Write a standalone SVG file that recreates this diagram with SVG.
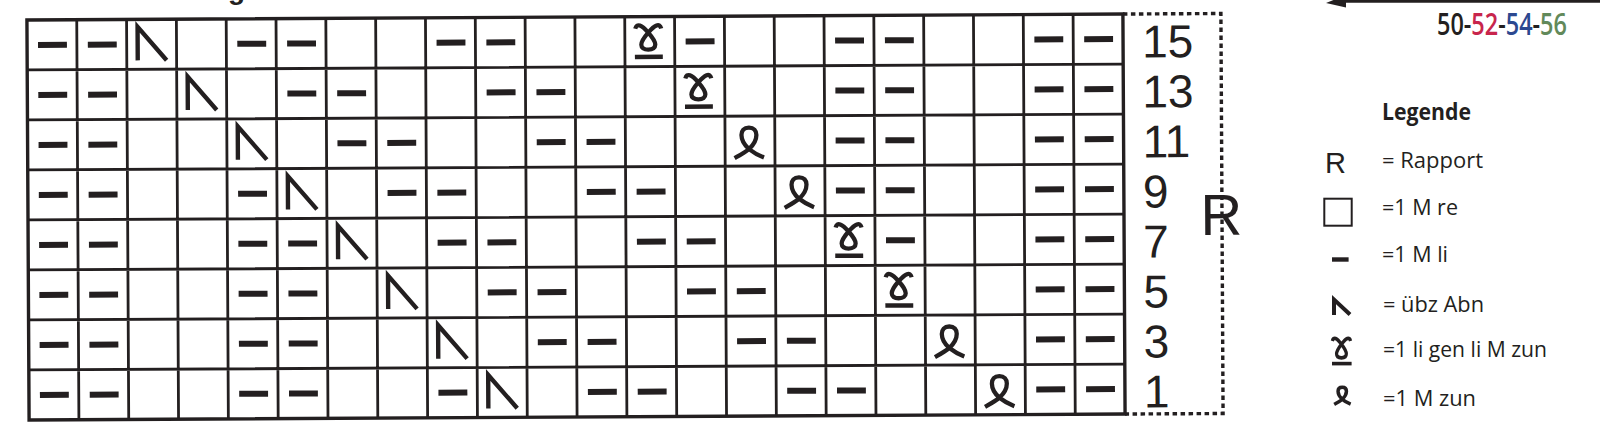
<svg xmlns="http://www.w3.org/2000/svg" xmlns:xlink="http://www.w3.org/1999/xlink" width="1600" height="438" viewBox="0 0 1600 438">
<style>
.ln{stroke:#231f20;fill:none}
.num{font-family:"Liberation Sans",Arial,sans-serif;font-size:46px;fill:#231f20}
.lg{font-family:"Open Sans","Noto Sans",sans-serif;font-size:22px;fill:#231f20}
.sz{font-family:"Open Sans","Noto Sans",sans-serif;font-weight:600;font-size:30px}
</style>
<defs>
<rect id="d" x="11" y="22" width="29" height="6" fill="#231f20"/>
<path id="k" d="M11 41V7.5L40 41" fill="none" stroke="#231f20" stroke-width="4.4" stroke-linejoin="miter"/>
<g id="t">
<path d="M10.5 12C12 6 17 8.5 23.5 16C27.5 20.5 30.5 24 30.5 28C30.5 31 28 33 23.5 33C19 33 16.5 31 16.5 28C16.5 24 19.5 20.5 23.5 16C30 8.5 35 6 36.5 12" fill="none" stroke="#231f20"/>
<rect x="10" y="38" width="28" height="4.5" fill="#231f20"/>
</g>
<path id="l" d="M9.5 42C14 39.5 19 37 24 33C34 24 34 11.5 24 11.5C14 11.5 14 24 24 33C29 37 34 39.5 39 41.5" fill="none" stroke="#231f20"/>
</defs>

<text x="228" y="-1" font-family="Liberation Sans,sans-serif" font-weight="bold" font-size="28" fill="#231f20">g</text>

<g id="chart" transform="rotate(-0.31 576 217)">
<g id="grid" transform="translate(28 17) scale(0.99636 1)">
<path class="ln" stroke-width="2.8" d="M50 0V400M100 0V400M150 0V400M200 0V400M250 0V400M300 0V400M350 0V400M400 0V400M450 0V400M500 0V400M550 0V400M600 0V400M650 0V400M700 0V400M750 0V400M800 0V400M850 0V400M900 0V400M950 0V400M1000 0V400M1050 0V400M0 50H1100M0 100H1100M0 150H1100M0 200H1100M0 250H1100M0 300H1100M0 350H1100"/>
<rect class="ln" stroke-width="3.4" x="0" y="0" width="1100" height="400"/>
<g id="row-15">
<use href="#d" x="0" y="0"/><use href="#d" x="50" y="0"/><use href="#d" x="200" y="0"/><use href="#d" x="250" y="0"/><use href="#d" x="400" y="0"/><use href="#d" x="450" y="0"/><use href="#d" x="650" y="0"/><use href="#d" x="800" y="0"/><use href="#d" x="850" y="0"/><use href="#d" x="1000" y="0"/><use href="#d" x="1050" y="0"/>
<use href="#k" x="100" y="0"/><use href="#t" x="600" y="0" stroke-width="4.3"/>
</g>
<g id="row-13">
<use href="#d" x="0" y="50"/><use href="#d" x="50" y="50"/><use href="#d" x="250" y="50"/><use href="#d" x="300" y="50"/><use href="#d" x="450" y="50"/><use href="#d" x="500" y="50"/><use href="#d" x="800" y="50"/><use href="#d" x="850" y="50"/><use href="#d" x="1000" y="50"/><use href="#d" x="1050" y="50"/>
<use href="#k" x="150" y="50"/><use href="#t" x="650" y="50" stroke-width="4.3"/>
</g>
<g id="row-11">
<use href="#d" x="0" y="100"/><use href="#d" x="50" y="100"/><use href="#d" x="300" y="100"/><use href="#d" x="350" y="100"/><use href="#d" x="500" y="100"/><use href="#d" x="550" y="100"/><use href="#d" x="800" y="100"/><use href="#d" x="850" y="100"/><use href="#d" x="1000" y="100"/><use href="#d" x="1050" y="100"/>
<use href="#k" x="200" y="100"/><use href="#l" x="700" y="100" stroke-width="4.3"/>
</g>
<g id="row-9">
<use href="#d" x="0" y="150"/><use href="#d" x="50" y="150"/><use href="#d" x="200" y="150"/><use href="#d" x="350" y="150"/><use href="#d" x="400" y="150"/><use href="#d" x="550" y="150"/><use href="#d" x="600" y="150"/><use href="#d" x="800" y="150"/><use href="#d" x="850" y="150"/><use href="#d" x="1000" y="150"/><use href="#d" x="1050" y="150"/>
<use href="#k" x="250" y="150"/><use href="#l" x="750" y="150" stroke-width="4.3"/>
</g>
<g id="row-7">
<use href="#d" x="0" y="200"/><use href="#d" x="50" y="200"/><use href="#d" x="200" y="200"/><use href="#d" x="250" y="200"/><use href="#d" x="400" y="200"/><use href="#d" x="450" y="200"/><use href="#d" x="600" y="200"/><use href="#d" x="650" y="200"/><use href="#d" x="850" y="200"/><use href="#d" x="1000" y="200"/><use href="#d" x="1050" y="200"/>
<use href="#k" x="300" y="200"/><use href="#t" x="800" y="200" stroke-width="4.3"/>
</g>
<g id="row-5">
<use href="#d" x="0" y="250"/><use href="#d" x="50" y="250"/><use href="#d" x="200" y="250"/><use href="#d" x="250" y="250"/><use href="#d" x="450" y="250"/><use href="#d" x="500" y="250"/><use href="#d" x="650" y="250"/><use href="#d" x="700" y="250"/><use href="#d" x="1000" y="250"/><use href="#d" x="1050" y="250"/>
<use href="#k" x="350" y="250"/><use href="#t" x="850" y="250" stroke-width="4.3"/>
</g>
<g id="row-3">
<use href="#d" x="0" y="300"/><use href="#d" x="50" y="300"/><use href="#d" x="200" y="300"/><use href="#d" x="250" y="300"/><use href="#d" x="500" y="300"/><use href="#d" x="550" y="300"/><use href="#d" x="700" y="300"/><use href="#d" x="750" y="300"/><use href="#d" x="1000" y="300"/><use href="#d" x="1050" y="300"/>
<use href="#k" x="400" y="300"/><use href="#l" x="900" y="300" stroke-width="4.3"/>
</g>
<g id="row-1">
<use href="#d" x="0" y="350"/><use href="#d" x="50" y="350"/><use href="#d" x="200" y="350"/><use href="#d" x="250" y="350"/><use href="#d" x="400" y="350"/><use href="#d" x="550" y="350"/><use href="#d" x="600" y="350"/><use href="#d" x="750" y="350"/><use href="#d" x="800" y="350"/><use href="#d" x="1000" y="350"/><use href="#d" x="1050" y="350"/>
<use href="#k" x="450" y="350"/><use href="#l" x="950" y="350" stroke-width="4.3"/>
</g>
</g>
<g id="rapport-box">
<path d="M1124 17H1222V417H1124" fill="none" stroke="#231f20" stroke-width="3.4" stroke-dasharray="4.5 3.5"/>
</g>
<g id="row-numbers">
<text class="num" x="1143" y="60.5">15</text>
<text class="num" x="1143" y="110.5">13</text>
<text class="num" x="1143" y="160.5">11</text>
<text class="num" x="1143" y="210.5">9</text>
<text class="num" x="1143" y="260.5">7</text>
<text class="num" x="1143" y="310.5">5</text>
<text class="num" x="1143" y="360.5">3</text>
<text class="num" x="1143" y="410.5">1</text>
</g>
<text id="rapport-label" x="1200.5" y="238.5" font-family="Liberation Sans,Arial,sans-serif" font-size="58" fill="#231f20">R</text>
</g>

<g id="connectors">
<path d="M1340 1H1600" stroke="#231f20" stroke-width="3.5" fill="none"/>
<polygon points="1326,3 1346,-5 1346,7.5" fill="#231f20"/>
</g>

<g id="sizes" transform="translate(1437 35) scale(0.782 1)">
<text class="sz" x="0" y="0" fill="#231f20">50-<tspan fill="#c8254c">52</tspan>-<tspan fill="#2c4890">54</tspan>-<tspan fill="#62895a">56</tspan></text>
</g>

<g id="legend">
<text id="legend-title" x="1382" y="120" font-family="Open Sans,Noto Sans,sans-serif" font-weight="bold" font-size="23" textLength="89" lengthAdjust="spacingAndGlyphs" fill="#231f20">Legende</text>
<g id="leg-r">
<text x="1325" y="173" font-family="Liberation Sans,Arial,sans-serif" font-size="29" fill="#231f20">R</text>
<text class="lg" x="1382" y="168" font-size="23" textLength="101" lengthAdjust="spacingAndGlyphs">= Rapport</text>
</g>
<g id="leg-re">
<rect x="1324.3" y="198.7" width="27.4" height="27" fill="none" stroke="#231f20" stroke-width="2"/>
<text class="lg" x="1382" y="215" textLength="76" lengthAdjust="spacingAndGlyphs">=1 M re</text>
</g>
<g id="leg-li">
<rect x="1332" y="257.3" width="16.6" height="4.4" fill="#231f20"/>
<text class="lg" x="1382" y="262.3" textLength="66" lengthAdjust="spacingAndGlyphs">=1 M li</text>
</g>
<g id="leg-abn">
<path d="M1334 315V299.5L1350 314.5" fill="none" stroke="#231f20" stroke-width="4"/>
<text class="lg" x="1383" y="311.7" textLength="101" lengthAdjust="spacingAndGlyphs">= übz Abn</text>
</g>
<g id="leg-twist">
<use href="#t" transform="translate(1325 331.4) scale(0.7 0.8)" stroke-width="4.6"/>
<text class="lg" x="1383" y="356.7" textLength="164" lengthAdjust="spacingAndGlyphs">=1 li gen li M zun</text>
</g>
<g id="leg-zun">
<use href="#l" transform="translate(1328.8 380.8) scale(0.56)" stroke-width="6.2"/>
<text class="lg" x="1383" y="406" textLength="93" lengthAdjust="spacingAndGlyphs">=1 M zun</text>
</g>
</g>
</svg>
